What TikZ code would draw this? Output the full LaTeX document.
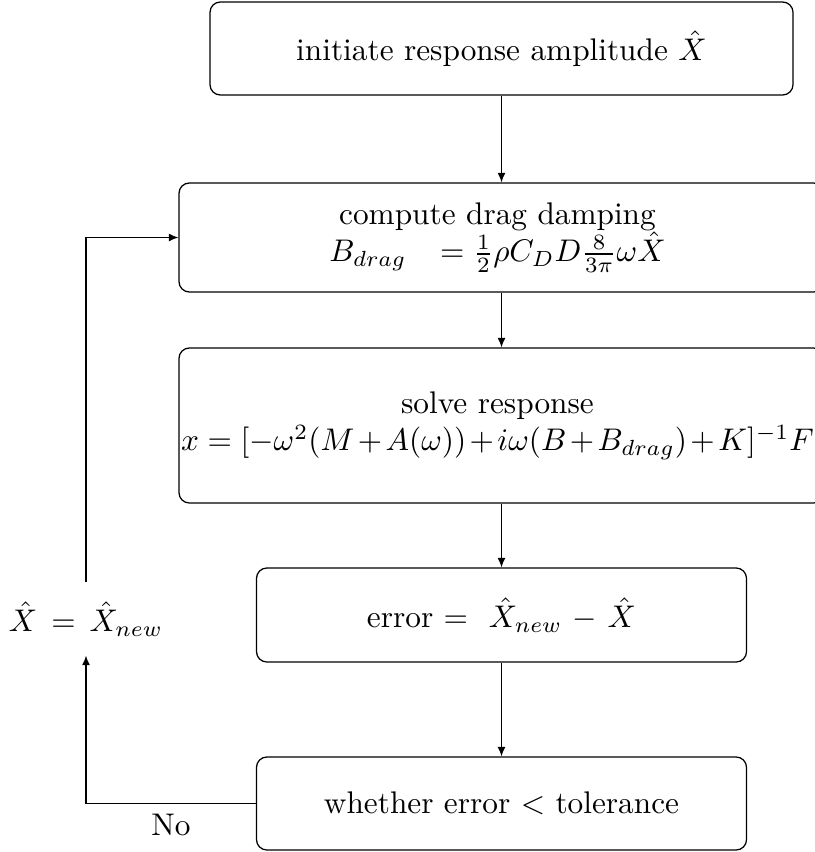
\documentclass[tikz,border=0pt]{standalone}
\usetikzlibrary{arrows.meta}
\newcommand\pxu{0.3195pt}
\begin{document}
\begin{tikzpicture}[x=0.3195pt,y=-0.3195pt,
  flowbox/.style={draw,rounded corners=3.3pt,inner sep=0pt,align=center},
  flowarrow/.style={-{Latex[length=3pt,width=2.5pt]}}]
\useasboundingbox (0,0) rectangle (815,852);
\clip (0,0) rectangle (815,852);
\node[flowbox,minimum width=583*\pxu,minimum height=93*\pxu] (b1) at (501.5,48.5)
  {initiate response amplitude $\hat{X}$};
\node[flowbox,minimum width=645*\pxu,minimum height=109*\pxu] (b2) at (501.5,237.5)
  {compute drag damping\hspace*{2.56pt}\\ $B_{drag}\hspace{8pt}=\frac{1}{2}\rho C_D D\frac{8}{3\pi}\omega\hat{X}$\hspace*{2.56pt}};
\node[flowbox,minimum width=645*\pxu,minimum height=155*\pxu] (b3) at (501.5,425.5)
  {solve response\hspace*{2.56pt}\\ $\medmuskip=2.0mu x=[-\omega^2(M+A(\omega))+i\omega(B+B_{drag})+K]^{-1}F$\hspace*{2.56pt}};
\node[flowbox,minimum width=490*\pxu,minimum height=94*\pxu] (b4) at (501.5,615)
  {error = \ $\hat{X}_{new}$ $-$ $\hat{X}$};
\node[flowbox,minimum width=490*\pxu,minimum height=93*\pxu] (b5) at (501.5,803.5)
  {whether error $<$ tolerance};
\node[inner sep=0pt,minimum height=72*\pxu] (lbl) at (86,619) {$\hat{X}\,=\,\hat{X}_{new}$};
\coordinate (c1) at (86,803.5);
\coordinate (c2) at (86,237.5);
\draw[flowarrow] (b1.south) -- (b2.north);
\draw[flowarrow] (b2.south) -- (b3.north);
\draw[flowarrow] (b3.south) -- (b4.north);
\draw[flowarrow] (b4.south) -- (b5.north);
\draw[flowarrow] (b5.west) -- node[below] {No} (c1) -- (lbl.south);
\draw[flowarrow] (lbl.north) -- (c2) -- (b2.west);
\end{tikzpicture}
\end{document}
